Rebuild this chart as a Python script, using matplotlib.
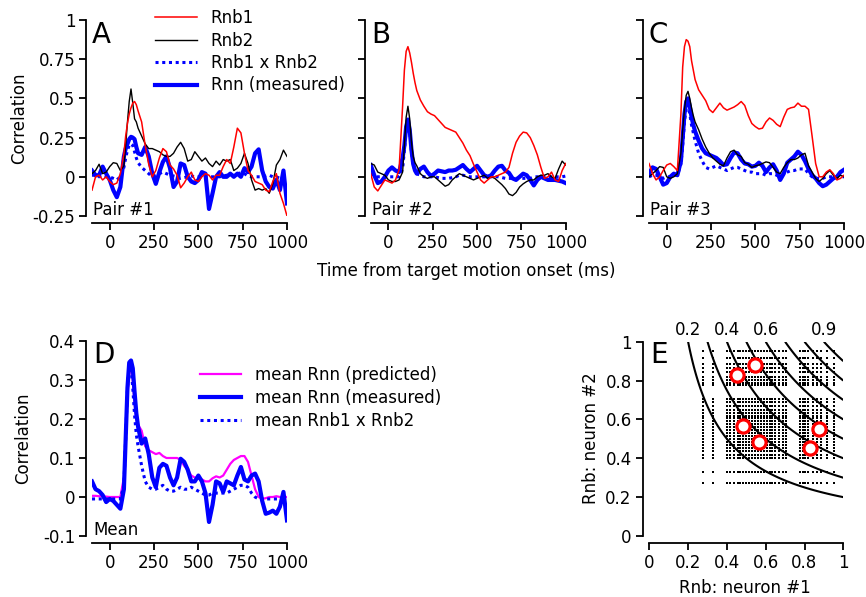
import numpy as np
import matplotlib
matplotlib.use("Agg")
import matplotlib.pyplot as plt

plt.rcParams['font.family'] = ['DejaVu Sans']
plt.rcParams['font.size'] = 12

# ---------------- data ----------------
t = [-100, -80, -60, -40, -20, 0, 20, 40, 60, 80,
     90, 100, 110, 120, 130, 140, 150, 160,
     180, 200, 220, 240, 260, 280, 300, 320, 340, 360,
     380, 400, 420, 440, 460, 480, 500, 520, 540, 560,
     580, 600, 620, 640, 660, 680, 700, 720, 740, 760,
     780, 800, 820, 840, 860, 880, 900, 920, 940, 960,
     980, 1000]

# Pair #1
a_rnb1 = [-0.085, 0.0, 0.01, -0.02, 0.0, -0.03, -0.05, -0.04, 0.02, 0.15,
          0.26, 0.34, 0.40, 0.44, 0.47, 0.48, 0.46, 0.42,
          0.35, 0.20, 0.08, 0.0, 0.04, 0.12, 0.18, 0.16, 0.075, 0.05,
          0.01, -0.07, -0.04, 0.0, 0.03, -0.02, -0.03, 0.0, 0.02, 0.01,
          -0.02, 0.01, 0.01, 0.065, 0.11, 0.085, 0.19, 0.31, 0.28, 0.15,
          0.04, 0.01, -0.03, -0.04, -0.05, -0.085, -0.095, -0.03, 0.02, -0.105,
          -0.17, -0.25]
a_rnb2 = [0.02, 0.04, 0.08, 0.02, 0.03, 0.065, 0.09, 0.085, 0.04, 0.07,
          0.20, 0.35, 0.48, 0.56, 0.47, 0.37, 0.35, 0.31,
          0.26, 0.21, 0.18, 0.18, 0.17, 0.16, 0.14, 0.13, 0.13, 0.15,
          0.19, 0.22, 0.18, 0.10, 0.11, 0.16, 0.13, 0.10, 0.12, 0.085,
          0.065, 0.10, 0.075, 0.11, 0.10, 0.11, 0.04, 0.055, 0.085, 0.15,
          0.085, -0.02, -0.085, -0.075, -0.085, -0.075, -0.105, -0.045, 0.075, 0.11,
          0.17, 0.13]
a_prod = [0.01, 0.01, 0.0, 0.01, 0.0, 0.0, -0.01, -0.02, 0.0, 0.06,
          0.12, 0.17, 0.20, 0.21, 0.20, 0.16, 0.12, 0.09,
          0.06, 0.04, 0.02, 0.0, 0.01, 0.02, 0.03, 0.02, 0.01, 0.005,
          0.0, -0.01, -0.005, 0.0, 0.005, 0.0, 0.0, 0.0, 0.0, 0.0,
          0.0, 0.0, 0.0, 0.005, 0.01, 0.01, 0.01, 0.02, 0.025, 0.02,
          0.005, 0.0, 0.0, 0.0, 0.0, 0.005, 0.01, 0.0, 0.0, -0.01,
          -0.02, -0.03]
a_rnn = [0.04, 0.01, 0.01, 0.065, 0.02, -0.02, -0.085, -0.13, -0.065, 0.13,
         0.18, 0.21, 0.24, 0.255, 0.25, 0.24, 0.19, 0.15,
         0.14, 0.19, 0.13, 0.02, -0.045, 0.03, 0.095, 0.13, 0.055, -0.065,
         -0.03, 0.085, 0.075, 0.0, -0.03, -0.04, -0.02, 0.03, 0.02, -0.205,
         -0.105, 0.0, 0.03, 0.0, 0.0, 0.02, 0.0, 0.02, 0.0, 0.055,
         0.03, 0.065, 0.15, 0.175, 0.04, -0.03, -0.065, -0.075, -0.02, -0.085,
         0.04, -0.17]

# Pair #2
b_rnb1 = [0.02, -0.065, -0.09, -0.055, -0.02, -0.03, -0.04, -0.02, 0.045, 0.45,
          0.68, 0.80, 0.83, 0.79, 0.73, 0.66, 0.60, 0.55,
          0.49, 0.45, 0.415, 0.40, 0.39, 0.365, 0.34, 0.315, 0.305, 0.295,
          0.285, 0.25, 0.215, 0.17, 0.135, 0.08, 0.03, -0.02, -0.04, -0.02,
          0.0, 0.0, 0.01, 0.02, 0.03, 0.06, 0.15, 0.22, 0.26, 0.285,
          0.28, 0.25, 0.20, 0.14, 0.06, -0.01, 0.0, 0.03, -0.02, -0.03,
          0.04, 0.085]
b_rnb2 = [0.085, 0.075, 0.03, 0.02, 0.01, -0.02, -0.03, -0.03, -0.02, 0.03,
          0.20, 0.38, 0.45, 0.37, 0.22, 0.13, 0.09, 0.07,
          0.02, 0.0, -0.01, 0.0, 0.0, -0.02, -0.04, -0.06, -0.05, -0.02,
          0.0, 0.02, 0.01, 0.0, -0.01, -0.02, -0.01, 0.0, 0.01, -0.01,
          0.0, -0.01, -0.03, -0.05, -0.075, -0.11, -0.12, -0.10, -0.065, -0.045,
          -0.03, -0.02, -0.02, 0.0, 0.01, 0.01, 0.02, 0.0, -0.01, 0.05,
          0.10, 0.075]
b_prod = [0.02, 0.01, 0.0, 0.0, 0.0, 0.0, 0.0, 0.0, 0.0, 0.05,
          0.17, 0.30, 0.34, 0.29, 0.16, 0.08, 0.04, 0.02,
          0.01, 0.0, 0.0, 0.0, 0.0, -0.005, -0.01, -0.01, -0.01, -0.005,
          0.0, 0.01, 0.01, 0.005, 0.0, 0.0, 0.0, 0.0, 0.0, 0.0,
          0.0, 0.0, 0.0, -0.005, -0.01, -0.01, -0.01, -0.01, -0.01, -0.01,
          -0.01, -0.01, 0.0, 0.0, 0.0, 0.0, 0.0, 0.0, 0.0, 0.0,
          0.0, 0.005]
b_rnn = [0.075, 0.01, -0.04, -0.03, 0.0, 0.04, 0.06, 0.04, 0.03, 0.12,
         0.20, 0.32, 0.365, 0.30, 0.17, 0.08, 0.04, 0.02,
         0.05, 0.065, 0.03, 0.005, 0.02, 0.04, 0.035, 0.03, 0.04, 0.04,
         0.045, 0.06, 0.075, 0.05, 0.03, 0.05, 0.07, 0.04, 0.01, 0.0,
         0.01, 0.04, 0.065, 0.07, 0.04, 0.025, -0.01, -0.02, 0.0, 0.02,
         0.01, -0.02, -0.055, -0.02, 0.0, -0.01, -0.02, -0.02, -0.02, -0.025,
         -0.03, -0.04]

# Pair #3
c_rnb1 = [0.085, 0.02, -0.02, 0.0, 0.04, 0.075, 0.085, 0.065, 0.04, 0.40,
          0.70, 0.83, 0.875, 0.865, 0.83, 0.74, 0.68, 0.62,
          0.555, 0.52, 0.485, 0.43, 0.41, 0.44, 0.47, 0.44, 0.425, 0.435,
          0.445, 0.46, 0.48, 0.455, 0.39, 0.34, 0.32, 0.305, 0.31, 0.35,
          0.375, 0.36, 0.335, 0.32, 0.38, 0.43, 0.44, 0.445, 0.47, 0.45,
          0.45, 0.43, 0.26, 0.085, 0.0, 0.0, 0.03, 0.045, 0.02, -0.02,
          -0.01, 0.01]
c_rnb2 = [0.0, 0.02, 0.04, 0.065, 0.06, 0.0, -0.01, 0.0, 0.02, 0.15,
          0.30, 0.43, 0.52, 0.545, 0.50, 0.44, 0.39, 0.35,
          0.30, 0.24, 0.19, 0.15, 0.12, 0.10, 0.08, 0.07, 0.12, 0.16,
          0.17, 0.14, 0.13, 0.09, 0.08, 0.06, 0.07, 0.075, 0.085, 0.095,
          0.09, 0.06, 0.03, 0.02, 0.06, 0.09, 0.11, 0.11, 0.12, 0.14,
          0.15, 0.07, 0.03, -0.01, -0.03, -0.01, 0.02, 0.04, 0.01, -0.01,
          0.01, 0.0]
c_prod = [0.0, 0.01, 0.01, 0.0, -0.01, 0.0, 0.0, 0.01, 0.01, 0.08,
          0.20, 0.35, 0.44, 0.46, 0.40, 0.33, 0.28, 0.23,
          0.15, 0.10, 0.06, 0.05, 0.06, 0.07, 0.06, 0.05, 0.04, 0.05,
          0.06, 0.06, 0.05, 0.04, 0.03, 0.03, 0.02, 0.02, 0.02, 0.01,
          0.02, 0.02, 0.01, 0.0, 0.02, 0.03, 0.04, 0.04, 0.05, 0.05,
          0.05, 0.02, 0.0, -0.01, -0.01, -0.01, 0.0, 0.0, 0.0, 0.0,
          0.0, 0.0]
c_rnn = [0.02, 0.06, 0.05, 0.0, -0.05, -0.04, 0.0, 0.02, 0.01, 0.10,
         0.25, 0.40, 0.48, 0.50, 0.45, 0.38, 0.33, 0.29,
         0.23, 0.18, 0.15, 0.14, 0.13, 0.12, 0.10, 0.075, 0.08, 0.12,
         0.155, 0.15, 0.11, 0.085, 0.08, 0.065, 0.07, 0.09, 0.07, 0.03,
         0.06, 0.08, 0.04, -0.02, 0.02, 0.09, 0.11, 0.13, 0.16, 0.14,
         0.10, 0.05, 0.01, -0.01, -0.04, -0.06, -0.05, -0.03, -0.01, 0.0,
         0.03, 0.045]

# Mean
d_pred = [0.003, 0.003, 0.002, 0.002, 0.001, 0.0, 0.0, 0.0, 0.0, 0.05,
          0.15, 0.26, 0.32, 0.33, 0.30, 0.24, 0.20, 0.185,
          0.17, 0.13, 0.12, 0.115, 0.11, 0.113, 0.105, 0.10, 0.10, 0.10,
          0.10, 0.095, 0.08, 0.07, 0.055, 0.05, 0.047, 0.045, 0.04, 0.04,
          0.048, 0.053, 0.05, 0.055, 0.07, 0.085, 0.095, 0.10, 0.105, 0.105,
          0.09, 0.055, 0.02, 0.0, -0.005, -0.003, 0.0, 0.0, 0.002, 0.0,
          0.0, 0.0]
d_meas = [0.04, 0.02, 0.015, 0.005, -0.013, -0.005, -0.01, -0.02, -0.03, 0.02,
          0.15, 0.28, 0.345, 0.35, 0.33, 0.27, 0.215, 0.18,
          0.137, 0.15, 0.11, 0.05, 0.025, 0.075, 0.085, 0.08, 0.05, 0.03,
          0.05, 0.098, 0.09, 0.07, 0.04, 0.04, 0.055, 0.04, 0.01, -0.064,
          -0.02, 0.04, 0.035, 0.013, 0.04, 0.035, 0.03, 0.055, 0.077, 0.045,
          0.04, 0.055, 0.06, 0.04, -0.01, -0.043, -0.04, -0.035, -0.043, -0.025,
          0.013, -0.06]
d_prod = [-0.005, -0.005, -0.005, -0.005, -0.005, -0.005, -0.005, -0.005, -0.005, 0.03,
          0.15, 0.28, 0.34, 0.33, 0.28, 0.21, 0.16, 0.13,
          0.08, 0.04, 0.025, 0.02, 0.02, 0.025, 0.03, 0.02, 0.015, 0.015,
          0.02, 0.025, 0.02, 0.02, 0.025, 0.02, 0.015, 0.01, 0.005, 0.005,
          0.01, 0.01, 0.01, 0.01, 0.01, 0.015, 0.02, 0.025, 0.03, 0.03,
          0.025, 0.01, 0.0, -0.005, -0.005, -0.005, -0.005, -0.005, -0.005, -0.005,
          -0.005, -0.005]

# Panel E
rnb_values = [0.275, 0.33, 0.40, 0.415, 0.435, 0.455, 0.47, 0.485, 0.50,
              0.515, 0.53, 0.545, 0.56, 0.575, 0.59, 0.605, 0.62, 0.635,
              0.65, 0.67, 0.69, 0.705, 0.775, 0.79, 0.805, 0.82, 0.845,
              0.865, 0.885, 0.915, 0.95]
highlight_x = [0.45, 0.545, 0.485, 0.565, 0.83, 0.875]
highlight_y = [0.83, 0.88, 0.565, 0.485, 0.455, 0.55]
iso_levels = [0.2, 0.3, 0.4, 0.5, 0.6, 0.7, 0.8, 0.9]
iso_labels = ["0.2", "0.4", "0.6", "0.9"]
iso_label_pos = [0.2, 0.4, 0.6, 0.9]

# ---------------- figure ----------------
W, H = 866, 597
fig = plt.figure(figsize=(W / 100, H / 100), dpi=100)


def rect(x0, y_top, w, h):
    return [x0 / W, 1 - (y_top + h) / H, w / W, h / H]


RED = '#ff0000'
BLUE = '#0000ff'
MAG = '#ff00ff'
FS = 12


def style(ax, left_off=4.0, bottom_off=4.8):
    for s in ['top', 'right']:
        ax.spines[s].set_visible(False)
    ax.spines['left'].set_position(('outward', left_off))
    ax.spines['bottom'].set_position(('outward', bottom_off))
    for s in ['left', 'bottom']:
        ax.spines[s].set_linewidth(1.3)
    ax.tick_params(direction='out', length=5, width=1.3, labelsize=FS, pad=3)


def time_axes(ax):
    ax.set_xlim(-100, 1000)
    ax.set_xticks([0, 250, 500, 750, 1000])
    ax.set_xticklabels(["0", "250", "500", "750", "1000"])


axA = fig.add_axes(rect(92, 20, 195, 196))
axB = fig.add_axes(rect(370.7, 20, 195, 196))
axC = fig.add_axes(rect(649, 20, 195, 196))
axD = fig.add_axes(rect(92, 341, 195, 195))
axE = fig.add_axes(rect(649.3, 341.7, 194, 194.3))

pair_data = [(axA, a_rnb1, a_rnb2, a_prod, a_rnn, "Pair #1"),
             (axB, b_rnb1, b_rnb2, b_prod, b_rnn, "Pair #2"),
             (axC, c_rnb1, c_rnb2, c_prod, c_rnn, "Pair #3")]

for ax, r1, r2, pr, rn, lab in pair_data:
    style(ax)
    time_axes(ax)
    ax.set_ylim(-0.25, 1)
    ax.set_yticks([-0.25, 0, 0.25, 0.5, 0.75, 1])
    h_rnn, = ax.plot(t, rn, color=BLUE, lw=3.0, solid_joinstyle='round', zorder=2)
    h_prod, = ax.plot(t, pr, color=BLUE, lw=2.2, ls=(0, (1, 1.2)), zorder=2.5)
    h_r2, = ax.plot(t, r2, color='black', lw=1.0, zorder=3)
    h_r1, = ax.plot(t, r1, color=RED, lw=1.1, zorder=4)
    ax.text(0.005, 0.03, lab, transform=ax.transAxes, ha='left', va='center', fontsize=FS)
    if ax is axA:
        ax.set_yticklabels(["-0.25", "0", "0.25", "0.5", "0.75", "1"])
        ax.legend([h_r1, h_r2, h_prod, h_rnn],
                  ["Rnb1", "Rnb2", "Rnb1 x Rnb2", "Rnn (measured)"],
                  loc='upper left', bbox_to_anchor=(155 / W, 1 - 9 / H),
                  bbox_transform=fig.transFigure, frameon=False,
                  borderpad=0, borderaxespad=0, handlelength=2.5,
                  handletextpad=0.85, labelspacing=0.27, fontsize=FS)
    else:
        ax.set_yticklabels([])

# Panel D
style(axD)
time_axes(axD)
axD.set_ylim(-0.1, 0.4)
axD.set_yticks([-0.1, 0, 0.1, 0.2, 0.3, 0.4])
axD.set_yticklabels(["-0.1", "0", "0.1", "0.2", "0.3", "0.4"])
hp, = axD.plot(t, d_pred, color=MAG, lw=1.6, zorder=2)
hm, = axD.plot(t, d_meas, color=BLUE, lw=3.0, zorder=3)
hd, = axD.plot(t, d_prod, color=BLUE, lw=2.2, ls=(0, (1, 1.2)), zorder=3.5)
axD.text(0.005, 0.03, "Mean", transform=axD.transAxes, ha='left', va='center', fontsize=FS)
axD.legend([hp, hm, hd], ["mean Rnn (predicted)", "mean Rnn (measured)", "mean Rnb1 x Rnb2"],
           loc='upper left', bbox_to_anchor=(200 / W, 1 - 366 / H),
           bbox_transform=fig.transFigure, frameon=False,
           borderpad=0, borderaxespad=0, handlelength=2.45,
           handletextpad=0.85, labelspacing=0.29, fontsize=FS)

# Panel E
style(axE, left_off=4.7, bottom_off=5.0)
axE.set_xlim(0, 1)
axE.set_ylim(0, 1)
ticks = [0, 0.2, 0.4, 0.6, 0.8, 1]
tl = ["0", "0.2", "0.4", "0.6", "0.8", "1"]
axE.set_xticks(ticks)
axE.set_xticklabels(tl)
axE.set_yticks(ticks)
axE.set_yticklabels(tl)
vals = np.array(rnb_values)
gx, gy = np.meshgrid(vals, vals)
axE.plot(gx.ravel(), gy.ravel(), ls='none', marker='s', ms=1.8, mew=0, color='black', zorder=2)
grid = np.linspace(0.01, 1, 400)
XX, YY = np.meshgrid(grid, grid)
axE.contour(XX, YY, XX * YY, levels=iso_levels, colors='black', linewidths=1.5, zorder=3)
axE.plot(highlight_x, highlight_y, ls='none', marker='o', ms=9.5, mfc='white', mec=RED,
         mew=2.3, zorder=5, clip_on=False)
for lx, lab in zip(iso_label_pos, iso_labels):
    axE.text(lx, 1.06, lab, ha='center', va='center', fontsize=FS, clip_on=False)


# Labels & panel letters
def ftext(x, y, s, **kw):
    fig.text(x / W, 1 - y / H, s, **kw)


ftext(19, 118, "Correlation", rotation=90, ha='center', va='center', fontsize=FS)
ftext(23, 438.5, "Correlation", rotation=90, ha='center', va='center', fontsize=FS)
ftext(466, 271, "Time from target motion onset (ms)", ha='center', va='center', fontsize=FS)
ftext(745, 579, "Rnb: neuron #1", ha='center', va='top', fontsize=FS)
ftext(591, 438.5, "Rnb: neuron #2", rotation=90, ha='center', va='center', fontsize=FS)

for x, y, s in [(92, 43, "A"), (371, 42.7, "B"), (648, 43, "C"), (93, 362.7, "D"), (650, 362.7, "E")]:
    ftext(x, y, s, ha='left', va='baseline', fontsize=20)

fig.savefig("out.png", dpi=100)
